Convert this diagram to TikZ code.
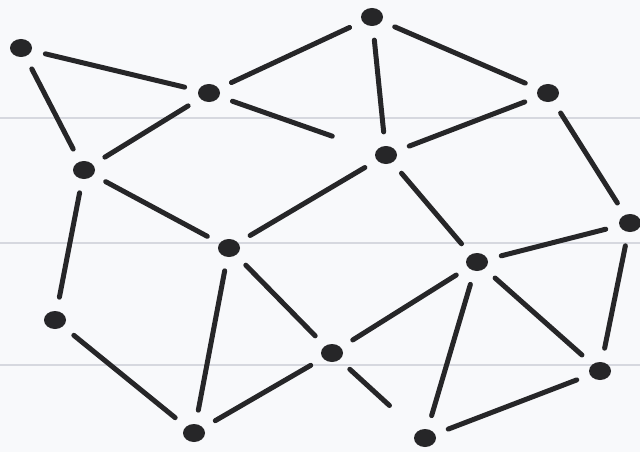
\documentclass[tikz,border=0pt]{standalone}
\usepackage{xcolor}
\usetikzlibrary{shapes.geometric}
\definecolor{inkgrey}{HTML}{262628}
\definecolor{paper}{HTML}{F8F9FB}
\definecolor{ruling}{HTML}{D6D8DF}

\tikzset{
  dot/.style={ellipse, fill=inkgrey, inner sep=0pt, minimum width=22pt, minimum height=18pt},
  link/.style={draw=inkgrey, line width=5pt, line cap=round, shorten <=14pt, shorten >=14pt}
}

\begin{document}
\begin{tikzpicture}[x=1pt, y=-1pt]
  % paper and ruled lines
  \fill[paper] (0,0) rectangle (640,452);
  \useasboundingbox (0,0) rectangle (640,452);
  \foreach \ry in {118, 243, 365}
    \draw[ruling, line width=1.2pt] (0,\ry) -- (640,\ry);

  % dots
  \node[dot] (a) at (21,48) {};
  \node[dot] (b) at (209,93) {};
  \node[dot] (c) at (372,17) {};
  \node[dot] (d) at (548,93) {};
  \node[dot] (e) at (84,170) {};
  \node[dot] (f) at (386,155) {};
  \node[dot] (g) at (229,248) {};
  \node[dot] (h) at (630,223) {};
  \node[dot] (i) at (477,262) {};
  \node[dot] (j) at (55,320) {};
  \node[dot] (k) at (332,353) {};
  \node[dot] (l) at (600,371) {};
  \node[dot] (m) at (194,433) {};
  \node[dot] (n) at (425,438) {};

  % strokes
  \foreach \u/\v in {a/b, b/c, c/d, a/e, e/b, c/f, f/d, d/h, e/g, g/f, f/i,
                     h/i, e/j, g/m, g/k, i/k, i/n, i/l, h/l, j/m, m/k, n/l}
    \path[link] (\u) -- (\v);
  \path[link, shorten >=46pt] (b) -- (f);
  \path[link, shorten >=38pt] (k) -- (n);
\end{tikzpicture}
\end{document}
